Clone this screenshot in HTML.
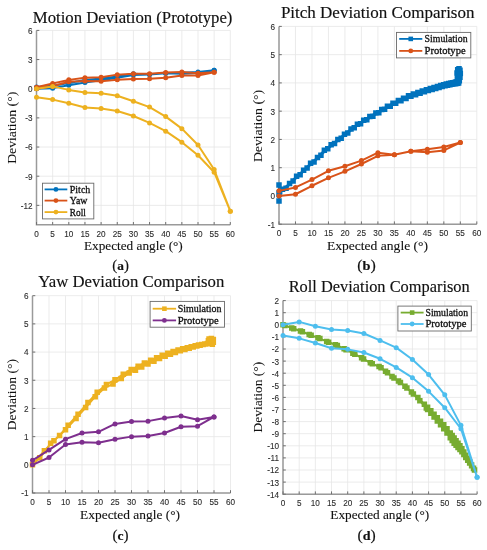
<!DOCTYPE html>
<html><head><meta charset="utf-8"><title>Deviation Comparison</title>
<style>
html,body{margin:0;padding:0;background:#fff;}
body{width:487px;height:550px;overflow:hidden;font-family:"Liberation Sans",sans-serif;}
svg{display:block;will-change:transform;}
</style></head>
<body>
<svg width="487" height="550" viewBox="0 0 487 550">
<rect width="487" height="550" fill="#fff"/>
<path d="M36.5 30.4V224.8M52.65 30.4V224.8M68.8 30.4V224.8M84.95 30.4V224.8M101.1 30.4V224.8M117.25 30.4V224.8M133.4 30.4V224.8M149.55 30.4V224.8M165.7 30.4V224.8M181.85 30.4V224.8M198 30.4V224.8M214.15 30.4V224.8M230.3 30.4V224.8M36.5 30.4H230.3M36.5 59.56H230.3M36.5 88.72H230.3M36.5 117.88H230.3M36.5 147.04H230.3M36.5 176.2H230.3M36.5 205.36H230.3" stroke="#e6e6e6" stroke-width="0.8" fill="none"/>
<path d="M36.5 30.4V224.8H230.3" stroke="#9a9a9a" stroke-width="1.5" fill="none"/>
<path d="M36.5 224.8v-2.8M52.65 224.8v-2.8M68.8 224.8v-2.8M84.95 224.8v-2.8M101.1 224.8v-2.8M117.25 224.8v-2.8M133.4 224.8v-2.8M149.55 224.8v-2.8M165.7 224.8v-2.8M181.85 224.8v-2.8M198 224.8v-2.8M214.15 224.8v-2.8M230.3 224.8v-2.8M36.5 30.4h2.8M36.5 59.56h2.8M36.5 88.72h2.8M36.5 117.88h2.8M36.5 147.04h2.8M36.5 176.2h2.8M36.5 205.36h2.8" stroke="#707070" stroke-width="1" fill="none"/>
<g font-family='"Liberation Sans", sans-serif' font-size="8.2" fill="#2b2b2b" stroke="#2b2b2b" stroke-width="0.1"><text x="36.5" y="236.6" text-anchor="middle">0</text><text x="52.65" y="236.6" text-anchor="middle">5</text><text x="68.8" y="236.6" text-anchor="middle">10</text><text x="84.95" y="236.6" text-anchor="middle">15</text><text x="101.1" y="236.6" text-anchor="middle">20</text><text x="117.25" y="236.6" text-anchor="middle">25</text><text x="133.4" y="236.6" text-anchor="middle">30</text><text x="149.55" y="236.6" text-anchor="middle">35</text><text x="165.7" y="236.6" text-anchor="middle">40</text><text x="181.85" y="236.6" text-anchor="middle">45</text><text x="198" y="236.6" text-anchor="middle">50</text><text x="214.15" y="236.6" text-anchor="middle">55</text><text x="230.3" y="236.6" text-anchor="middle">60</text><text x="32.5" y="33.8" text-anchor="end">6</text><text x="32.5" y="62.96" text-anchor="end">3</text><text x="32.5" y="92.12" text-anchor="end">0</text><text x="32.5" y="121.28" text-anchor="end">-3</text><text x="32.5" y="150.44" text-anchor="end">-6</text><text x="32.5" y="179.6" text-anchor="end">-9</text><text x="32.5" y="208.76" text-anchor="end">-12</text></g>
<text x="32.8" y="22.5" font-size="16" textLength="199.6" lengthAdjust="spacingAndGlyphs" font-family='"Liberation Serif", serif' fill="#111111" stroke="#111111" stroke-width="0.15">Motion Deviation (Prototype)</text>
<polyline points="36.5,88.72 52.65,88.14 68.8,85.22 84.95,82.5 101.1,80.26 117.25,77.74 133.4,74.92 149.55,74.53 165.7,73.36 181.85,73.65 198,73.07 214.15,70.35 214.15,70.35 198,71.9 181.85,72.68 165.7,73.36 149.55,74.53 133.4,73.85 117.25,76.57 101.1,78.51 84.95,80.07 68.8,83.08 52.65,85.8 36.5,86.97" stroke="#0072BD" stroke-width="2" fill="none" stroke-linejoin="round"/>
<circle cx="36.5" cy="86.97" r="2.5" fill="#0072BD"/>
<circle cx="52.65" cy="85.8" r="2.5" fill="#0072BD"/>
<circle cx="68.8" cy="83.08" r="2.5" fill="#0072BD"/>
<circle cx="84.95" cy="80.07" r="2.5" fill="#0072BD"/>
<circle cx="101.1" cy="78.51" r="2.5" fill="#0072BD"/>
<circle cx="117.25" cy="76.57" r="2.5" fill="#0072BD"/>
<circle cx="133.4" cy="73.85" r="2.5" fill="#0072BD"/>
<circle cx="149.55" cy="74.53" r="2.5" fill="#0072BD"/>
<circle cx="165.7" cy="73.36" r="2.5" fill="#0072BD"/>
<circle cx="181.85" cy="72.68" r="2.5" fill="#0072BD"/>
<circle cx="198" cy="71.9" r="2.5" fill="#0072BD"/>
<circle cx="214.15" cy="70.35" r="2.5" fill="#0072BD"/>
<circle cx="36.5" cy="88.72" r="2.5" fill="#0072BD"/>
<circle cx="52.65" cy="88.14" r="2.5" fill="#0072BD"/>
<circle cx="68.8" cy="85.22" r="2.5" fill="#0072BD"/>
<circle cx="84.95" cy="82.5" r="2.5" fill="#0072BD"/>
<circle cx="101.1" cy="80.26" r="2.5" fill="#0072BD"/>
<circle cx="117.25" cy="77.74" r="2.5" fill="#0072BD"/>
<circle cx="133.4" cy="74.92" r="2.5" fill="#0072BD"/>
<circle cx="149.55" cy="74.53" r="2.5" fill="#0072BD"/>
<circle cx="165.7" cy="73.36" r="2.5" fill="#0072BD"/>
<circle cx="181.85" cy="73.65" r="2.5" fill="#0072BD"/>
<circle cx="198" cy="73.07" r="2.5" fill="#0072BD"/>
<circle cx="214.15" cy="70.35" r="2.5" fill="#0072BD"/>
<polyline points="36.5,88.72 52.65,86.19 68.8,81.72 84.95,80.94 101.1,81.14 117.25,79.87 133.4,79 149.55,78.81 165.7,77.74 181.85,75.6 198,75.4 214.15,72.2 214.15,72.2 198,73.17 181.85,71.9 165.7,72.58 149.55,73.65 133.4,73.75 117.25,74.63 101.1,77.35 84.95,77.74 68.8,79.87 52.65,83.57 36.5,87.16" stroke="#D95319" stroke-width="2" fill="none" stroke-linejoin="round"/>
<circle cx="36.5" cy="87.16" r="2.5" fill="#D95319"/>
<circle cx="52.65" cy="83.57" r="2.5" fill="#D95319"/>
<circle cx="68.8" cy="79.87" r="2.5" fill="#D95319"/>
<circle cx="84.95" cy="77.74" r="2.5" fill="#D95319"/>
<circle cx="101.1" cy="77.35" r="2.5" fill="#D95319"/>
<circle cx="117.25" cy="74.63" r="2.5" fill="#D95319"/>
<circle cx="133.4" cy="73.75" r="2.5" fill="#D95319"/>
<circle cx="149.55" cy="73.65" r="2.5" fill="#D95319"/>
<circle cx="165.7" cy="72.58" r="2.5" fill="#D95319"/>
<circle cx="181.85" cy="71.9" r="2.5" fill="#D95319"/>
<circle cx="198" cy="73.17" r="2.5" fill="#D95319"/>
<circle cx="214.15" cy="72.2" r="2.5" fill="#D95319"/>
<circle cx="36.5" cy="88.72" r="2.5" fill="#D95319"/>
<circle cx="52.65" cy="86.19" r="2.5" fill="#D95319"/>
<circle cx="68.8" cy="81.72" r="2.5" fill="#D95319"/>
<circle cx="84.95" cy="80.94" r="2.5" fill="#D95319"/>
<circle cx="101.1" cy="81.14" r="2.5" fill="#D95319"/>
<circle cx="117.25" cy="79.87" r="2.5" fill="#D95319"/>
<circle cx="133.4" cy="79" r="2.5" fill="#D95319"/>
<circle cx="149.55" cy="78.81" r="2.5" fill="#D95319"/>
<circle cx="165.7" cy="77.74" r="2.5" fill="#D95319"/>
<circle cx="181.85" cy="75.6" r="2.5" fill="#D95319"/>
<circle cx="198" cy="75.4" r="2.5" fill="#D95319"/>
<circle cx="214.15" cy="72.2" r="2.5" fill="#D95319"/>
<polyline points="36.5,97.27 52.65,99.61 68.8,103.3 84.95,107.58 101.1,108.45 117.25,110.98 133.4,116.03 149.55,122.93 165.7,131.2 181.85,142.18 198,155.3 214.15,172.21 230.3,211.19 230.3,211.19 214.15,169.49 198,145 181.85,128.67 165.7,116.62 149.55,107.09 133.4,101.26 117.25,95.72 101.1,93.29 84.95,92.51 68.8,89.89 52.65,86.39 36.5,88.72" stroke="#EDB120" stroke-width="2" fill="none" stroke-linejoin="round"/>
<circle cx="36.5" cy="88.72" r="2.5" fill="#EDB120"/>
<circle cx="52.65" cy="86.39" r="2.5" fill="#EDB120"/>
<circle cx="68.8" cy="89.89" r="2.5" fill="#EDB120"/>
<circle cx="84.95" cy="92.51" r="2.5" fill="#EDB120"/>
<circle cx="101.1" cy="93.29" r="2.5" fill="#EDB120"/>
<circle cx="117.25" cy="95.72" r="2.5" fill="#EDB120"/>
<circle cx="133.4" cy="101.26" r="2.5" fill="#EDB120"/>
<circle cx="149.55" cy="107.09" r="2.5" fill="#EDB120"/>
<circle cx="165.7" cy="116.62" r="2.5" fill="#EDB120"/>
<circle cx="181.85" cy="128.67" r="2.5" fill="#EDB120"/>
<circle cx="198" cy="145" r="2.5" fill="#EDB120"/>
<circle cx="214.15" cy="169.49" r="2.5" fill="#EDB120"/>
<circle cx="230.3" cy="211.19" r="2.5" fill="#EDB120"/>
<circle cx="36.5" cy="97.27" r="2.5" fill="#EDB120"/>
<circle cx="52.65" cy="99.61" r="2.5" fill="#EDB120"/>
<circle cx="68.8" cy="103.3" r="2.5" fill="#EDB120"/>
<circle cx="84.95" cy="107.58" r="2.5" fill="#EDB120"/>
<circle cx="101.1" cy="108.45" r="2.5" fill="#EDB120"/>
<circle cx="117.25" cy="110.98" r="2.5" fill="#EDB120"/>
<circle cx="133.4" cy="116.03" r="2.5" fill="#EDB120"/>
<circle cx="149.55" cy="122.93" r="2.5" fill="#EDB120"/>
<circle cx="165.7" cy="131.2" r="2.5" fill="#EDB120"/>
<circle cx="181.85" cy="142.18" r="2.5" fill="#EDB120"/>
<circle cx="198" cy="155.3" r="2.5" fill="#EDB120"/>
<circle cx="214.15" cy="172.21" r="2.5" fill="#EDB120"/>
<circle cx="230.3" cy="211.19" r="2.5" fill="#EDB120"/>
<rect x="42.5" y="183.2" width="51.3" height="35.7" fill="#fff" stroke="#6a6a6a" stroke-width="0.9"/>
<path d="M44.6 189.4H67.3" stroke="#0072BD" stroke-width="1.8"/>
<circle cx="55.95" cy="189.4" r="2.4" fill="#0072BD"/>
<text x="69.8" y="192.8" font-size="10" textLength="20.5" lengthAdjust="spacingAndGlyphs" font-family='"Liberation Serif", serif' fill="#111111" stroke="#111111" stroke-width="0.3">Pitch</text>
<path d="M44.6 200.6H67.3" stroke="#D95319" stroke-width="1.8"/>
<circle cx="55.95" cy="200.6" r="2.4" fill="#D95319"/>
<text x="69.8" y="204" font-size="10" textLength="17.5" lengthAdjust="spacingAndGlyphs" font-family='"Liberation Serif", serif' fill="#111111" stroke="#111111" stroke-width="0.3">Yaw</text>
<path d="M44.6 212.1H67.3" stroke="#EDB120" stroke-width="1.8"/>
<circle cx="55.95" cy="212.1" r="2.4" fill="#EDB120"/>
<text x="69.8" y="215.5" font-size="10" textLength="16" lengthAdjust="spacingAndGlyphs" font-family='"Liberation Serif", serif' fill="#111111" stroke="#111111" stroke-width="0.3">Roll</text>
<text x="15.6" y="163.8" font-size="12.6" textLength="72" lengthAdjust="spacingAndGlyphs" transform="rotate(-90 15.6 163.8)" font-family='"Liberation Serif", serif' fill="#111111" stroke="#111111" stroke-width="0.05">Deviation (°)</text>
<text x="83.9" y="249.6" font-size="12.6" textLength="98.9" lengthAdjust="spacingAndGlyphs" font-family='"Liberation Serif", serif' fill="#111111" stroke="#111111" stroke-width="0.1">Expected angle (°)</text>
<text x="112.3" y="270.2" font-size="15" font-family='"Liberation Serif", serif' fill="#111111" stroke="#111111" stroke-width="0.15" textLength="16.6" lengthAdjust="spacingAndGlyphs">(<tspan font-weight="bold" font-size="13.5">a</tspan>)</text>
<path d="M279 26.4V224.2M295.48 26.4V224.2M311.97 26.4V224.2M328.45 26.4V224.2M344.93 26.4V224.2M361.42 26.4V224.2M377.9 26.4V224.2M394.38 26.4V224.2M410.87 26.4V224.2M427.35 26.4V224.2M443.83 26.4V224.2M460.32 26.4V224.2M476.8 26.4V224.2M279 26.4H476.8M279 54.66H476.8M279 82.91H476.8M279 111.17H476.8M279 139.43H476.8M279 167.69H476.8M279 195.94H476.8M279 224.2H476.8" stroke="#e6e6e6" stroke-width="0.8" fill="none"/>
<path d="M279 26.4V224.2H476.8" stroke="#9a9a9a" stroke-width="1.5" fill="none"/>
<path d="M279 224.2v-2.8M295.48 224.2v-2.8M311.97 224.2v-2.8M328.45 224.2v-2.8M344.93 224.2v-2.8M361.42 224.2v-2.8M377.9 224.2v-2.8M394.38 224.2v-2.8M410.87 224.2v-2.8M427.35 224.2v-2.8M443.83 224.2v-2.8M460.32 224.2v-2.8M476.8 224.2v-2.8M279 26.4h2.8M279 54.66h2.8M279 82.91h2.8M279 111.17h2.8M279 139.43h2.8M279 167.69h2.8M279 195.94h2.8M279 224.2h2.8" stroke="#707070" stroke-width="1" fill="none"/>
<g font-family='"Liberation Sans", sans-serif' font-size="8.2" fill="#2b2b2b" stroke="#2b2b2b" stroke-width="0.1"><text x="279" y="236" text-anchor="middle">0</text><text x="295.48" y="236" text-anchor="middle">5</text><text x="311.97" y="236" text-anchor="middle">10</text><text x="328.45" y="236" text-anchor="middle">15</text><text x="344.93" y="236" text-anchor="middle">20</text><text x="361.42" y="236" text-anchor="middle">25</text><text x="377.9" y="236" text-anchor="middle">30</text><text x="394.38" y="236" text-anchor="middle">35</text><text x="410.87" y="236" text-anchor="middle">40</text><text x="427.35" y="236" text-anchor="middle">45</text><text x="443.83" y="236" text-anchor="middle">50</text><text x="460.32" y="236" text-anchor="middle">55</text><text x="476.8" y="236" text-anchor="middle">60</text><text x="275" y="29.8" text-anchor="end">6</text><text x="275" y="58.06" text-anchor="end">5</text><text x="275" y="86.31" text-anchor="end">4</text><text x="275" y="114.57" text-anchor="end">3</text><text x="275" y="142.83" text-anchor="end">2</text><text x="275" y="171.09" text-anchor="end">1</text><text x="275" y="199.34" text-anchor="end">0</text><text x="275" y="227.6" text-anchor="end">-1</text></g>
<text x="280.9" y="17.6" font-size="16" textLength="193.6" lengthAdjust="spacingAndGlyphs" font-family='"Liberation Serif", serif' fill="#111111" stroke="#111111" stroke-width="0.15">Pitch Deviation Comparison</text>
<polyline points="279,201.03 279,194.53 279,184.92 279.66,191.7 279,193.12 286.05,188.28 293.1,181.06 300.12,174.67 307.11,168.03 314.05,162.08 320.94,155.18 327.77,148.7 334.52,143.59 341.19,138.24 347.76,133.09 354.22,127.81 360.57,123.7 366.79,119.84 372.88,116.16 378.82,112.63 384.61,109.36 390.23,106.17 395.69,103.22 400.96,100.78 406.04,98.43 410.93,96.17 415.62,94.65 420.1,93.19 424.35,91.8 428.39,90.52 432.19,89.42 435.76,88.38 439.09,87.41 442.16,86.51 444.99,85.78 447.56,85.24 449.87,84.76 451.92,84.33 453.7,83.95 455.22,83.64 456.46,83.38 457.42,83.18 458.11,83.03 458.53,82.94 458.67,82.91 459.33,80.65 459.99,77.26 460.32,73.59 459.99,70.2 459,68.79 457.68,69.63 457.02,73.02 457.35,77.26 457.68,80.65 457.02,82.35 458.63,81.51 458.36,81.57 457.8,81.68 456.97,81.86 455.87,82.09 454.49,82.38 452.85,82.72 450.93,83.12 448.75,83.58 446.31,84.09 443.61,84.67 440.66,85.54 437.45,86.47 434.01,87.47 430.32,88.55 426.4,89.72 422.25,91.07 417.89,92.5 413.3,93.99 408.51,95.87 403.53,98.18 398.35,100.58 392.98,103.21 387.44,106.34 381.73,109.57 375.87,112.96 369.85,116.57 363.7,120.35 357.41,124.29 351,129.02 344.48,134.26 337.86,139.47 331.15,144.75 324.36,150.24 317.5,157.49 310.59,163.37 303.62,170.31 296.61,176.21 289.58,183.5 282.53,189.29 279,193.12" stroke="#0072BD" stroke-width="2" fill="none" stroke-linejoin="round"/>
<path d="M276.25 198.28h5.5v5.5h-5.5zM276.25 191.78h5.5v5.5h-5.5zM276.25 182.17h5.5v5.5h-5.5zM276.91 188.95h5.5v5.5h-5.5zM276.25 190.37h5.5v5.5h-5.5zM283.3 185.53h5.5v5.5h-5.5zM290.35 178.31h5.5v5.5h-5.5zM297.37 171.92h5.5v5.5h-5.5zM304.36 165.28h5.5v5.5h-5.5zM311.3 159.33h5.5v5.5h-5.5zM318.19 152.43h5.5v5.5h-5.5zM325.02 145.95h5.5v5.5h-5.5zM331.77 140.84h5.5v5.5h-5.5zM338.44 135.49h5.5v5.5h-5.5zM345.01 130.34h5.5v5.5h-5.5zM351.47 125.06h5.5v5.5h-5.5zM357.82 120.95h5.5v5.5h-5.5zM364.04 117.09h5.5v5.5h-5.5zM370.13 113.41h5.5v5.5h-5.5zM376.07 109.88h5.5v5.5h-5.5zM381.86 106.61h5.5v5.5h-5.5zM387.48 103.42h5.5v5.5h-5.5zM392.94 100.47h5.5v5.5h-5.5zM398.21 98.03h5.5v5.5h-5.5zM403.29 95.68h5.5v5.5h-5.5zM408.18 93.42h5.5v5.5h-5.5zM412.87 91.9h5.5v5.5h-5.5zM417.35 90.44h5.5v5.5h-5.5zM421.6 89.05h5.5v5.5h-5.5zM425.64 87.77h5.5v5.5h-5.5zM429.44 86.67h5.5v5.5h-5.5zM433.01 85.63h5.5v5.5h-5.5zM436.34 84.66h5.5v5.5h-5.5zM439.41 83.76h5.5v5.5h-5.5zM442.24 83.03h5.5v5.5h-5.5zM444.81 82.49h5.5v5.5h-5.5zM447.12 82.01h5.5v5.5h-5.5zM449.17 81.58h5.5v5.5h-5.5zM450.95 81.2h5.5v5.5h-5.5zM452.47 80.89h5.5v5.5h-5.5zM453.71 80.63h5.5v5.5h-5.5zM454.67 80.43h5.5v5.5h-5.5zM455.36 80.28h5.5v5.5h-5.5zM455.78 80.19h5.5v5.5h-5.5zM455.92 80.16h5.5v5.5h-5.5zM456.58 77.9h5.5v5.5h-5.5zM457.24 74.51h5.5v5.5h-5.5zM457.57 70.84h5.5v5.5h-5.5zM457.24 67.45h5.5v5.5h-5.5zM456.25 66.04h5.5v5.5h-5.5zM454.93 66.88h5.5v5.5h-5.5zM454.27 70.27h5.5v5.5h-5.5zM454.6 74.51h5.5v5.5h-5.5zM454.93 77.9h5.5v5.5h-5.5zM454.27 79.6h5.5v5.5h-5.5zM455.88 78.76h5.5v5.5h-5.5zM455.61 78.82h5.5v5.5h-5.5zM455.05 78.93h5.5v5.5h-5.5zM454.22 79.11h5.5v5.5h-5.5zM453.12 79.34h5.5v5.5h-5.5zM451.74 79.63h5.5v5.5h-5.5zM450.1 79.97h5.5v5.5h-5.5zM448.18 80.37h5.5v5.5h-5.5zM446 80.83h5.5v5.5h-5.5zM443.56 81.34h5.5v5.5h-5.5zM440.86 81.92h5.5v5.5h-5.5zM437.91 82.79h5.5v5.5h-5.5zM434.7 83.72h5.5v5.5h-5.5zM431.26 84.72h5.5v5.5h-5.5zM427.57 85.8h5.5v5.5h-5.5zM423.65 86.97h5.5v5.5h-5.5zM419.5 88.32h5.5v5.5h-5.5zM415.14 89.75h5.5v5.5h-5.5zM410.55 91.24h5.5v5.5h-5.5zM405.76 93.12h5.5v5.5h-5.5zM400.78 95.43h5.5v5.5h-5.5zM395.6 97.83h5.5v5.5h-5.5zM390.23 100.46h5.5v5.5h-5.5zM384.69 103.59h5.5v5.5h-5.5zM378.98 106.82h5.5v5.5h-5.5zM373.12 110.21h5.5v5.5h-5.5zM367.1 113.82h5.5v5.5h-5.5zM360.95 117.6h5.5v5.5h-5.5zM354.66 121.54h5.5v5.5h-5.5zM348.25 126.27h5.5v5.5h-5.5zM341.73 131.51h5.5v5.5h-5.5zM335.11 136.72h5.5v5.5h-5.5zM328.4 142h5.5v5.5h-5.5zM321.61 147.49h5.5v5.5h-5.5zM314.75 154.74h5.5v5.5h-5.5zM307.84 160.62h5.5v5.5h-5.5zM300.87 167.56h5.5v5.5h-5.5zM293.86 173.46h5.5v5.5h-5.5zM286.83 180.75h5.5v5.5h-5.5zM279.78 186.54h5.5v5.5h-5.5zM276.25 190.37h5.5v5.5h-5.5z" fill="#0072BD"/>
<polyline points="279,195.94 295.48,194.25 311.97,185.77 328.45,177.86 344.93,171.36 361.42,164.01 377.9,155.82 394.38,154.69 410.87,151.3 427.35,152.14 443.83,150.45 460.32,142.54 460.32,142.54 443.83,147.06 427.35,149.32 410.87,151.3 394.38,154.69 377.9,152.71 361.42,160.62 344.93,166.27 328.45,170.79 311.97,179.55 295.48,187.47 279,190.86" stroke="#D95319" stroke-width="2" fill="none" stroke-linejoin="round"/>
<circle cx="279" cy="190.86" r="2.5" fill="#D95319"/>
<circle cx="295.48" cy="187.47" r="2.5" fill="#D95319"/>
<circle cx="311.97" cy="179.55" r="2.5" fill="#D95319"/>
<circle cx="328.45" cy="170.79" r="2.5" fill="#D95319"/>
<circle cx="344.93" cy="166.27" r="2.5" fill="#D95319"/>
<circle cx="361.42" cy="160.62" r="2.5" fill="#D95319"/>
<circle cx="377.9" cy="152.71" r="2.5" fill="#D95319"/>
<circle cx="394.38" cy="154.69" r="2.5" fill="#D95319"/>
<circle cx="410.87" cy="151.3" r="2.5" fill="#D95319"/>
<circle cx="427.35" cy="149.32" r="2.5" fill="#D95319"/>
<circle cx="443.83" cy="147.06" r="2.5" fill="#D95319"/>
<circle cx="460.32" cy="142.54" r="2.5" fill="#D95319"/>
<circle cx="279" cy="195.94" r="2.5" fill="#D95319"/>
<circle cx="295.48" cy="194.25" r="2.5" fill="#D95319"/>
<circle cx="311.97" cy="185.77" r="2.5" fill="#D95319"/>
<circle cx="328.45" cy="177.86" r="2.5" fill="#D95319"/>
<circle cx="344.93" cy="171.36" r="2.5" fill="#D95319"/>
<circle cx="361.42" cy="164.01" r="2.5" fill="#D95319"/>
<circle cx="377.9" cy="155.82" r="2.5" fill="#D95319"/>
<circle cx="394.38" cy="154.69" r="2.5" fill="#D95319"/>
<circle cx="410.87" cy="151.3" r="2.5" fill="#D95319"/>
<circle cx="427.35" cy="152.14" r="2.5" fill="#D95319"/>
<circle cx="443.83" cy="150.45" r="2.5" fill="#D95319"/>
<circle cx="460.32" cy="142.54" r="2.5" fill="#D95319"/>
<rect x="396.5" y="32.4" width="74.3" height="25.5" fill="#fff" stroke="#6a6a6a" stroke-width="0.9"/>
<path d="M399.2 38.9H422.3" stroke="#0072BD" stroke-width="1.8"/>
<rect x="408.45" y="36.6" width="4.6" height="4.6" fill="#0072BD"/>
<text x="424.6" y="42.3" font-size="10" textLength="43" lengthAdjust="spacingAndGlyphs" font-family='"Liberation Serif", serif' fill="#111111" stroke="#111111" stroke-width="0.3">Simulation</text>
<path d="M399.2 50.9H422.3" stroke="#D95319" stroke-width="1.8"/>
<circle cx="410.75" cy="50.9" r="2.4" fill="#D95319"/>
<text x="424.6" y="54.3" font-size="10" textLength="41" lengthAdjust="spacingAndGlyphs" font-family='"Liberation Serif", serif' fill="#111111" stroke="#111111" stroke-width="0.3">Prototype</text>
<text x="262" y="162.1" font-size="12.6" textLength="72.1" lengthAdjust="spacingAndGlyphs" transform="rotate(-90 262 162.1)" font-family='"Liberation Serif", serif' fill="#111111" stroke="#111111" stroke-width="0.05">Deviation (°)</text>
<text x="326.9" y="249.9" font-size="12.6" textLength="101.2" lengthAdjust="spacingAndGlyphs" font-family='"Liberation Serif", serif' fill="#111111" stroke="#111111" stroke-width="0.1">Expected angle (°)</text>
<text x="357.3" y="270.2" font-size="15" font-family='"Liberation Serif", serif' fill="#111111" stroke="#111111" stroke-width="0.15" textLength="18.6" lengthAdjust="spacingAndGlyphs">(<tspan font-weight="bold" font-size="13.5">b</tspan>)</text>
<path d="M32.5 295.7V493M49 295.7V493M65.5 295.7V493M82 295.7V493M98.5 295.7V493M115 295.7V493M131.5 295.7V493M148 295.7V493M164.5 295.7V493M181 295.7V493M197.5 295.7V493M214 295.7V493M230.5 295.7V493M32.5 295.7H230.5M32.5 323.89H230.5M32.5 352.07H230.5M32.5 380.26H230.5M32.5 408.44H230.5M32.5 436.63H230.5M32.5 464.81H230.5M32.5 493H230.5" stroke="#e6e6e6" stroke-width="0.8" fill="none"/>
<path d="M32.5 295.7V493H230.5" stroke="#9a9a9a" stroke-width="1.5" fill="none"/>
<path d="M32.5 493v-2.8M49 493v-2.8M65.5 493v-2.8M82 493v-2.8M98.5 493v-2.8M115 493v-2.8M131.5 493v-2.8M148 493v-2.8M164.5 493v-2.8M181 493v-2.8M197.5 493v-2.8M214 493v-2.8M230.5 493v-2.8M32.5 295.7h2.8M32.5 323.89h2.8M32.5 352.07h2.8M32.5 380.26h2.8M32.5 408.44h2.8M32.5 436.63h2.8M32.5 464.81h2.8M32.5 493h2.8" stroke="#707070" stroke-width="1" fill="none"/>
<g font-family='"Liberation Sans", sans-serif' font-size="8.2" fill="#2b2b2b" stroke="#2b2b2b" stroke-width="0.1"><text x="32.5" y="504.8" text-anchor="middle">0</text><text x="49" y="504.8" text-anchor="middle">5</text><text x="65.5" y="504.8" text-anchor="middle">10</text><text x="82" y="504.8" text-anchor="middle">15</text><text x="98.5" y="504.8" text-anchor="middle">20</text><text x="115" y="504.8" text-anchor="middle">25</text><text x="131.5" y="504.8" text-anchor="middle">30</text><text x="148" y="504.8" text-anchor="middle">35</text><text x="164.5" y="504.8" text-anchor="middle">40</text><text x="181" y="504.8" text-anchor="middle">45</text><text x="197.5" y="504.8" text-anchor="middle">50</text><text x="214" y="504.8" text-anchor="middle">55</text><text x="230.5" y="504.8" text-anchor="middle">60</text><text x="28.5" y="299.1" text-anchor="end">6</text><text x="28.5" y="327.29" text-anchor="end">5</text><text x="28.5" y="355.47" text-anchor="end">4</text><text x="28.5" y="383.66" text-anchor="end">3</text><text x="28.5" y="411.84" text-anchor="end">2</text><text x="28.5" y="440.03" text-anchor="end">1</text><text x="28.5" y="468.21" text-anchor="end">0</text><text x="28.5" y="496.4" text-anchor="end">-1</text></g>
<text x="38.3" y="287.2" font-size="16" textLength="186" lengthAdjust="spacingAndGlyphs" font-family='"Liberation Serif", serif' fill="#111111" stroke="#111111" stroke-width="0.15">Yaw Deviation Comparison</text>
<polyline points="32.5,464.81 44.38,450.73 53.95,440.81 65.5,429.79 76.06,418.44 85.63,407.61 95.2,396.71 104.44,388.09 113.02,383.91 121.27,378.57 129.19,372.92 135.46,370.35 141.73,366.89 148,363.9 153.94,361.23 159.55,358.61 165.16,356.19 170.44,354.2 175.39,352.48 180.34,350.75 184.96,349.42 189.25,348.22 193.21,347.12 196.84,346.1 200.14,345.29 203.11,344.58 205.75,343.95 208.06,343.4 208.39,340.8 209.05,339.11 211.36,338.54 213.34,339.39 213.34,342.21 212.35,344.18 207.4,343.39 204.76,343.89 201.79,344.45 198.49,345.08 195.19,345.8 191.23,346.72 187.27,347.64 182.65,348.72 178.03,350.02 173.08,351.55 167.8,353.2 162.19,355.24 156.58,357.7 150.64,360.29 144.37,362.94 138.1,366.13 131.17,369.39 123.25,374.34 115,379.83 106.42,384.41 97.18,392.3 87.94,402.62 78.04,414.17 68.14,425.3 59.56,435.42 50.65,443.35 39.76,457.87 32.5,464.81 32.5,464.81" stroke="#EDB120" stroke-width="2" fill="none" stroke-linejoin="round"/>
<path d="M29.75 462.06h5.5v5.5h-5.5zM41.63 447.98h5.5v5.5h-5.5zM51.2 438.06h5.5v5.5h-5.5zM62.75 427.04h5.5v5.5h-5.5zM73.31 415.69h5.5v5.5h-5.5zM82.88 404.86h5.5v5.5h-5.5zM92.45 393.96h5.5v5.5h-5.5zM101.69 385.34h5.5v5.5h-5.5zM110.27 381.16h5.5v5.5h-5.5zM118.52 375.82h5.5v5.5h-5.5zM126.44 370.17h5.5v5.5h-5.5zM132.71 367.6h5.5v5.5h-5.5zM138.98 364.14h5.5v5.5h-5.5zM145.25 361.15h5.5v5.5h-5.5zM151.19 358.48h5.5v5.5h-5.5zM156.8 355.86h5.5v5.5h-5.5zM162.41 353.44h5.5v5.5h-5.5zM167.69 351.45h5.5v5.5h-5.5zM172.64 349.73h5.5v5.5h-5.5zM177.59 348h5.5v5.5h-5.5zM182.21 346.67h5.5v5.5h-5.5zM186.5 345.47h5.5v5.5h-5.5zM190.46 344.37h5.5v5.5h-5.5zM194.09 343.35h5.5v5.5h-5.5zM197.39 342.54h5.5v5.5h-5.5zM200.36 341.83h5.5v5.5h-5.5zM203 341.2h5.5v5.5h-5.5zM205.31 340.65h5.5v5.5h-5.5zM205.64 338.05h5.5v5.5h-5.5zM206.3 336.36h5.5v5.5h-5.5zM208.61 335.79h5.5v5.5h-5.5zM210.59 336.64h5.5v5.5h-5.5zM210.59 339.46h5.5v5.5h-5.5zM209.6 341.43h5.5v5.5h-5.5zM204.65 340.64h5.5v5.5h-5.5zM202.01 341.14h5.5v5.5h-5.5zM199.04 341.7h5.5v5.5h-5.5zM195.74 342.33h5.5v5.5h-5.5zM192.44 343.05h5.5v5.5h-5.5zM188.48 343.97h5.5v5.5h-5.5zM184.52 344.89h5.5v5.5h-5.5zM179.9 345.97h5.5v5.5h-5.5zM175.28 347.27h5.5v5.5h-5.5zM170.33 348.8h5.5v5.5h-5.5zM165.05 350.45h5.5v5.5h-5.5zM159.44 352.49h5.5v5.5h-5.5zM153.83 354.95h5.5v5.5h-5.5zM147.89 357.54h5.5v5.5h-5.5zM141.62 360.19h5.5v5.5h-5.5zM135.35 363.38h5.5v5.5h-5.5zM128.42 366.64h5.5v5.5h-5.5zM120.5 371.59h5.5v5.5h-5.5zM112.25 377.08h5.5v5.5h-5.5zM103.67 381.66h5.5v5.5h-5.5zM94.43 389.55h5.5v5.5h-5.5zM85.19 399.87h5.5v5.5h-5.5zM75.29 411.42h5.5v5.5h-5.5zM65.39 422.55h5.5v5.5h-5.5zM56.81 432.67h5.5v5.5h-5.5zM47.9 440.6h5.5v5.5h-5.5zM37.01 455.12h5.5v5.5h-5.5zM29.75 462.06h5.5v5.5h-5.5zM29.75 462.06h5.5v5.5h-5.5z" fill="#EDB120"/>
<polyline points="32.5,464.81 49,457.49 65.5,444.52 82,442.27 98.5,442.83 115,439.17 131.5,436.63 148,436.06 164.5,432.96 181,426.76 197.5,426.2 214,416.9 214,416.9 197.5,419.72 181,416.05 164.5,418.03 148,421.13 131.5,421.41 115,423.94 98.5,431.84 82,432.96 65.5,439.17 49,449.88 32.5,460.3" stroke="#7E2F8E" stroke-width="2" fill="none" stroke-linejoin="round"/>
<circle cx="32.5" cy="460.3" r="2.5" fill="#7E2F8E"/>
<circle cx="49" cy="449.88" r="2.5" fill="#7E2F8E"/>
<circle cx="65.5" cy="439.17" r="2.5" fill="#7E2F8E"/>
<circle cx="82" cy="432.96" r="2.5" fill="#7E2F8E"/>
<circle cx="98.5" cy="431.84" r="2.5" fill="#7E2F8E"/>
<circle cx="115" cy="423.94" r="2.5" fill="#7E2F8E"/>
<circle cx="131.5" cy="421.41" r="2.5" fill="#7E2F8E"/>
<circle cx="148" cy="421.13" r="2.5" fill="#7E2F8E"/>
<circle cx="164.5" cy="418.03" r="2.5" fill="#7E2F8E"/>
<circle cx="181" cy="416.05" r="2.5" fill="#7E2F8E"/>
<circle cx="197.5" cy="419.72" r="2.5" fill="#7E2F8E"/>
<circle cx="214" cy="416.9" r="2.5" fill="#7E2F8E"/>
<circle cx="32.5" cy="464.81" r="2.5" fill="#7E2F8E"/>
<circle cx="49" cy="457.49" r="2.5" fill="#7E2F8E"/>
<circle cx="65.5" cy="444.52" r="2.5" fill="#7E2F8E"/>
<circle cx="82" cy="442.27" r="2.5" fill="#7E2F8E"/>
<circle cx="98.5" cy="442.83" r="2.5" fill="#7E2F8E"/>
<circle cx="115" cy="439.17" r="2.5" fill="#7E2F8E"/>
<circle cx="131.5" cy="436.63" r="2.5" fill="#7E2F8E"/>
<circle cx="148" cy="436.06" r="2.5" fill="#7E2F8E"/>
<circle cx="164.5" cy="432.96" r="2.5" fill="#7E2F8E"/>
<circle cx="181" cy="426.76" r="2.5" fill="#7E2F8E"/>
<circle cx="197.5" cy="426.2" r="2.5" fill="#7E2F8E"/>
<circle cx="214" cy="416.9" r="2.5" fill="#7E2F8E"/>
<rect x="150.1" y="301.4" width="74.4" height="25.8" fill="#fff" stroke="#6a6a6a" stroke-width="0.9"/>
<path d="M152.7 308.7H176.1" stroke="#EDB120" stroke-width="1.8"/>
<rect x="162.1" y="306.4" width="4.6" height="4.6" fill="#EDB120"/>
<text x="177.7" y="312.1" font-size="10" textLength="43.7" lengthAdjust="spacingAndGlyphs" font-family='"Liberation Serif", serif' fill="#111111" stroke="#111111" stroke-width="0.3">Simulation</text>
<path d="M152.7 320.4H176.1" stroke="#7E2F8E" stroke-width="1.8"/>
<circle cx="164.4" cy="320.4" r="2.4" fill="#7E2F8E"/>
<text x="177.7" y="323.8" font-size="10" textLength="41" lengthAdjust="spacingAndGlyphs" font-family='"Liberation Serif", serif' fill="#111111" stroke="#111111" stroke-width="0.3">Prototype</text>
<text x="15.8" y="430.3" font-size="12.6" textLength="71.2" lengthAdjust="spacingAndGlyphs" transform="rotate(-90 15.8 430.3)" font-family='"Liberation Serif", serif' fill="#111111" stroke="#111111" stroke-width="0.05">Deviation (°)</text>
<text x="80.1" y="519.4" font-size="12.6" textLength="100" lengthAdjust="spacingAndGlyphs" font-family='"Liberation Serif", serif' fill="#111111" stroke="#111111" stroke-width="0.1">Expected angle (°)</text>
<text x="112.5" y="540" font-size="15" font-family='"Liberation Serif", serif' fill="#111111" stroke="#111111" stroke-width="0.15" textLength="16.1" lengthAdjust="spacingAndGlyphs">(<tspan font-weight="bold" font-size="13.5">c</tspan>)</text>
<path d="M283 300.6V494.2M299.18 300.6V494.2M315.35 300.6V494.2M331.52 300.6V494.2M347.7 300.6V494.2M363.88 300.6V494.2M380.05 300.6V494.2M396.23 300.6V494.2M412.4 300.6V494.2M428.58 300.6V494.2M444.75 300.6V494.2M460.93 300.6V494.2M477.1 300.6V494.2M283 300.6H477.1M283 312.7H477.1M283 324.8H477.1M283 336.9H477.1M283 349H477.1M283 361.1H477.1M283 373.2H477.1M283 385.3H477.1M283 397.4H477.1M283 409.5H477.1M283 421.6H477.1M283 433.7H477.1M283 445.8H477.1M283 457.9H477.1M283 470H477.1M283 482.1H477.1M283 494.2H477.1" stroke="#e6e6e6" stroke-width="0.8" fill="none"/>
<path d="M283 300.6V494.2H477.1" stroke="#9a9a9a" stroke-width="1.5" fill="none"/>
<path d="M283 494.2v-2.8M299.18 494.2v-2.8M315.35 494.2v-2.8M331.52 494.2v-2.8M347.7 494.2v-2.8M363.88 494.2v-2.8M380.05 494.2v-2.8M396.23 494.2v-2.8M412.4 494.2v-2.8M428.58 494.2v-2.8M444.75 494.2v-2.8M460.93 494.2v-2.8M477.1 494.2v-2.8M283 300.6h2.8M283 312.7h2.8M283 324.8h2.8M283 336.9h2.8M283 349h2.8M283 361.1h2.8M283 373.2h2.8M283 385.3h2.8M283 397.4h2.8M283 409.5h2.8M283 421.6h2.8M283 433.7h2.8M283 445.8h2.8M283 457.9h2.8M283 470h2.8M283 482.1h2.8M283 494.2h2.8" stroke="#707070" stroke-width="1" fill="none"/>
<g font-family='"Liberation Sans", sans-serif' font-size="8.2" fill="#2b2b2b" stroke="#2b2b2b" stroke-width="0.1"><text x="283" y="506" text-anchor="middle">0</text><text x="299.18" y="506" text-anchor="middle">5</text><text x="315.35" y="506" text-anchor="middle">10</text><text x="331.52" y="506" text-anchor="middle">15</text><text x="347.7" y="506" text-anchor="middle">20</text><text x="363.88" y="506" text-anchor="middle">25</text><text x="380.05" y="506" text-anchor="middle">30</text><text x="396.23" y="506" text-anchor="middle">35</text><text x="412.4" y="506" text-anchor="middle">40</text><text x="428.58" y="506" text-anchor="middle">45</text><text x="444.75" y="506" text-anchor="middle">50</text><text x="460.93" y="506" text-anchor="middle">55</text><text x="477.1" y="506" text-anchor="middle">60</text><text x="279" y="304" text-anchor="end">2</text><text x="279" y="316.1" text-anchor="end">1</text><text x="279" y="328.2" text-anchor="end">0</text><text x="279" y="340.3" text-anchor="end">-1</text><text x="279" y="352.4" text-anchor="end">-2</text><text x="279" y="364.5" text-anchor="end">-3</text><text x="279" y="376.6" text-anchor="end">-4</text><text x="279" y="388.7" text-anchor="end">-5</text><text x="279" y="400.8" text-anchor="end">-6</text><text x="279" y="412.9" text-anchor="end">-7</text><text x="279" y="425" text-anchor="end">-8</text><text x="279" y="437.1" text-anchor="end">-9</text><text x="279" y="449.2" text-anchor="end">-10</text><text x="279" y="461.3" text-anchor="end">-11</text><text x="279" y="473.4" text-anchor="end">-12</text><text x="279" y="485.5" text-anchor="end">-13</text><text x="279" y="497.6" text-anchor="end">-14</text></g>
<text x="288.7" y="291.8" font-size="16" textLength="181" lengthAdjust="spacingAndGlyphs" font-family='"Liberation Serif", serif' fill="#111111" stroke="#111111" stroke-width="0.15">Roll Deviation Comparison</text>
<polyline points="283,324.8 291.73,327.95 300.47,331.01 309.2,334.51 317.94,337.87 326.67,341.39 335.41,344.76 344.14,348.87 352.88,353.17 361.61,357.85 370.35,362.84 379.08,366.61 385.55,371.21 392.02,376.45 398.49,381.07 404.96,386.35 411.43,391.94 417.9,397.6 424.37,404.13 427.6,407.19 430.84,410.63 434.07,414.17 437.31,417.7 440.54,421.24 443.78,424.77 447.01,428.8 450.25,433.03 452.19,435.58 454.13,438.12 456.07,440.66 458.01,443.2 459.95,445.74 461.9,448.64 463.84,451.91 465.78,455.18 467.72,458.44 469.66,461.71 471.6,465.01 473.54,468.34 474.51,470 474.51,470 473.54,468.58 471.6,465.75 469.66,462.94 467.72,460.17 465.78,457.39 463.84,454.62 461.9,451.84 459.95,449.43 458.01,447.38 456.07,445.33 454.13,443.16 452.19,440.42 450.25,437.68 447.01,433.1 443.78,428.74 440.54,424.86 437.31,420.99 434.07,417.12 430.84,413.24 427.6,409.46 426.31,407.9 419.84,400.83 413.37,394.12 406.9,388.04 400.43,382.43 393.96,378.04 387.49,372.74 381.02,367.66 372.29,363.8 363.55,358.93 354.82,354.14 346.08,349.84 337.35,345.49 328.61,342.2 319.88,338.59 311.14,335.31 302.41,331.71 293.68,328.63 284.94,325.5" stroke="#77AC30" stroke-width="2" fill="none" stroke-linejoin="round"/>
<path d="M280.25 322.05h5.5v5.5h-5.5zM288.98 325.2h5.5v5.5h-5.5zM297.72 328.26h5.5v5.5h-5.5zM306.45 331.76h5.5v5.5h-5.5zM315.19 335.12h5.5v5.5h-5.5zM323.92 338.64h5.5v5.5h-5.5zM332.66 342.01h5.5v5.5h-5.5zM341.39 346.12h5.5v5.5h-5.5zM350.13 350.42h5.5v5.5h-5.5zM358.86 355.1h5.5v5.5h-5.5zM367.6 360.09h5.5v5.5h-5.5zM376.33 363.86h5.5v5.5h-5.5zM382.8 368.46h5.5v5.5h-5.5zM389.27 373.7h5.5v5.5h-5.5zM395.74 378.32h5.5v5.5h-5.5zM402.21 383.6h5.5v5.5h-5.5zM408.68 389.19h5.5v5.5h-5.5zM415.15 394.85h5.5v5.5h-5.5zM421.62 401.38h5.5v5.5h-5.5zM424.85 404.44h5.5v5.5h-5.5zM428.09 407.88h5.5v5.5h-5.5zM431.32 411.42h5.5v5.5h-5.5zM434.56 414.95h5.5v5.5h-5.5zM437.79 418.49h5.5v5.5h-5.5zM441.03 422.02h5.5v5.5h-5.5zM444.26 426.05h5.5v5.5h-5.5zM447.5 430.28h5.5v5.5h-5.5zM449.44 432.83h5.5v5.5h-5.5zM451.38 435.37h5.5v5.5h-5.5zM453.32 437.91h5.5v5.5h-5.5zM455.26 440.45h5.5v5.5h-5.5zM457.2 442.99h5.5v5.5h-5.5zM459.15 445.89h5.5v5.5h-5.5zM461.09 449.16h5.5v5.5h-5.5zM463.03 452.43h5.5v5.5h-5.5zM464.97 455.69h5.5v5.5h-5.5zM466.91 458.96h5.5v5.5h-5.5zM468.85 462.26h5.5v5.5h-5.5zM470.79 465.59h5.5v5.5h-5.5zM471.76 467.25h5.5v5.5h-5.5zM471.76 467.25h5.5v5.5h-5.5zM470.79 465.83h5.5v5.5h-5.5zM468.85 463h5.5v5.5h-5.5zM466.91 460.19h5.5v5.5h-5.5zM464.97 457.42h5.5v5.5h-5.5zM463.03 454.64h5.5v5.5h-5.5zM461.09 451.87h5.5v5.5h-5.5zM459.15 449.09h5.5v5.5h-5.5zM457.2 446.68h5.5v5.5h-5.5zM455.26 444.63h5.5v5.5h-5.5zM453.32 442.58h5.5v5.5h-5.5zM451.38 440.41h5.5v5.5h-5.5zM449.44 437.67h5.5v5.5h-5.5zM447.5 434.93h5.5v5.5h-5.5zM444.26 430.35h5.5v5.5h-5.5zM441.03 425.99h5.5v5.5h-5.5zM437.79 422.11h5.5v5.5h-5.5zM434.56 418.24h5.5v5.5h-5.5zM431.32 414.37h5.5v5.5h-5.5zM428.09 410.49h5.5v5.5h-5.5zM424.85 406.71h5.5v5.5h-5.5zM423.56 405.15h5.5v5.5h-5.5zM417.09 398.08h5.5v5.5h-5.5zM410.62 391.37h5.5v5.5h-5.5zM404.15 385.29h5.5v5.5h-5.5zM397.68 379.68h5.5v5.5h-5.5zM391.21 375.29h5.5v5.5h-5.5zM384.74 369.99h5.5v5.5h-5.5zM378.27 364.91h5.5v5.5h-5.5zM369.54 361.05h5.5v5.5h-5.5zM360.8 356.18h5.5v5.5h-5.5zM352.07 351.39h5.5v5.5h-5.5zM343.33 347.09h5.5v5.5h-5.5zM334.6 342.74h5.5v5.5h-5.5zM325.86 339.45h5.5v5.5h-5.5zM317.13 335.84h5.5v5.5h-5.5zM308.39 332.56h5.5v5.5h-5.5zM299.66 328.96h5.5v5.5h-5.5zM290.93 325.88h5.5v5.5h-5.5zM282.19 322.75h5.5v5.5h-5.5z" fill="#77AC30"/>
<polyline points="283,335.45 299.18,338.35 315.35,342.95 331.52,348.27 347.7,349.36 363.88,352.51 380.05,358.8 396.23,367.39 412.4,377.68 428.58,391.35 444.75,407.69 460.93,428.74 477.1,477.26 477.1,477.26 460.93,425.35 444.75,394.86 428.58,374.53 412.4,359.53 396.23,347.67 380.05,340.41 363.88,333.51 347.7,330.49 331.52,329.52 315.35,326.25 299.18,321.9 283,324.8" stroke="#4DBEEE" stroke-width="2" fill="none" stroke-linejoin="round"/>
<circle cx="283" cy="324.8" r="2.5" fill="#4DBEEE"/>
<circle cx="299.18" cy="321.9" r="2.5" fill="#4DBEEE"/>
<circle cx="315.35" cy="326.25" r="2.5" fill="#4DBEEE"/>
<circle cx="331.52" cy="329.52" r="2.5" fill="#4DBEEE"/>
<circle cx="347.7" cy="330.49" r="2.5" fill="#4DBEEE"/>
<circle cx="363.88" cy="333.51" r="2.5" fill="#4DBEEE"/>
<circle cx="380.05" cy="340.41" r="2.5" fill="#4DBEEE"/>
<circle cx="396.23" cy="347.67" r="2.5" fill="#4DBEEE"/>
<circle cx="412.4" cy="359.53" r="2.5" fill="#4DBEEE"/>
<circle cx="428.58" cy="374.53" r="2.5" fill="#4DBEEE"/>
<circle cx="444.75" cy="394.86" r="2.5" fill="#4DBEEE"/>
<circle cx="460.93" cy="425.35" r="2.5" fill="#4DBEEE"/>
<circle cx="477.1" cy="477.26" r="2.5" fill="#4DBEEE"/>
<circle cx="283" cy="335.45" r="2.5" fill="#4DBEEE"/>
<circle cx="299.18" cy="338.35" r="2.5" fill="#4DBEEE"/>
<circle cx="315.35" cy="342.95" r="2.5" fill="#4DBEEE"/>
<circle cx="331.52" cy="348.27" r="2.5" fill="#4DBEEE"/>
<circle cx="347.7" cy="349.36" r="2.5" fill="#4DBEEE"/>
<circle cx="363.88" cy="352.51" r="2.5" fill="#4DBEEE"/>
<circle cx="380.05" cy="358.8" r="2.5" fill="#4DBEEE"/>
<circle cx="396.23" cy="367.39" r="2.5" fill="#4DBEEE"/>
<circle cx="412.4" cy="377.68" r="2.5" fill="#4DBEEE"/>
<circle cx="428.58" cy="391.35" r="2.5" fill="#4DBEEE"/>
<circle cx="444.75" cy="407.69" r="2.5" fill="#4DBEEE"/>
<circle cx="460.93" cy="428.74" r="2.5" fill="#4DBEEE"/>
<circle cx="477.1" cy="477.26" r="2.5" fill="#4DBEEE"/>
<rect x="397.9" y="306.1" width="73.4" height="24.9" fill="#fff" stroke="#6a6a6a" stroke-width="0.9"/>
<path d="M400.7 312.6H423.6" stroke="#77AC30" stroke-width="1.8"/>
<rect x="409.85" y="310.3" width="4.6" height="4.6" fill="#77AC30"/>
<text x="425.5" y="316" font-size="10" textLength="42.5" lengthAdjust="spacingAndGlyphs" font-family='"Liberation Serif", serif' fill="#111111" stroke="#111111" stroke-width="0.3">Simulation</text>
<path d="M400.7 324H423.6" stroke="#4DBEEE" stroke-width="1.8"/>
<circle cx="412.15" cy="324" r="2.4" fill="#4DBEEE"/>
<text x="425.5" y="327.4" font-size="10" textLength="41" lengthAdjust="spacingAndGlyphs" font-family='"Liberation Serif", serif' fill="#111111" stroke="#111111" stroke-width="0.3">Prototype</text>
<text x="262" y="432.5" font-size="12.6" textLength="70.7" lengthAdjust="spacingAndGlyphs" transform="rotate(-90 262 432.5)" font-family='"Liberation Serif", serif' fill="#111111" stroke="#111111" stroke-width="0.05">Deviation (°)</text>
<text x="330.3" y="519.4" font-size="12.6" textLength="98.9" lengthAdjust="spacingAndGlyphs" font-family='"Liberation Serif", serif' fill="#111111" stroke="#111111" stroke-width="0.1">Expected angle (°)</text>
<text x="357.6" y="540" font-size="15" font-family='"Liberation Serif", serif' fill="#111111" stroke="#111111" stroke-width="0.15" textLength="18.2" lengthAdjust="spacingAndGlyphs">(<tspan font-weight="bold" font-size="13.5">d</tspan>)</text>
</svg>
</body></html>
